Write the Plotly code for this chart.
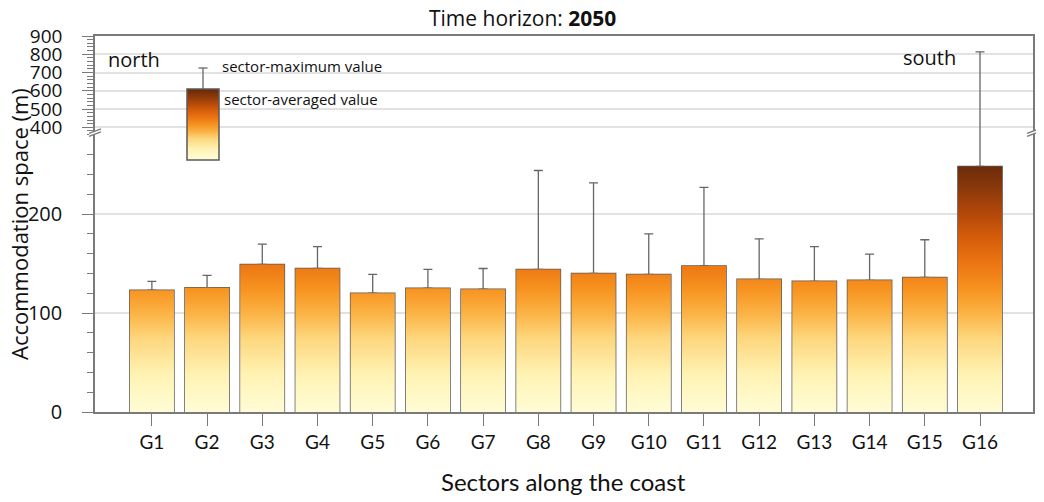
import plotly.graph_objects as go
from plotly.colors import sample_colorscale

# ---------------- data ----------------
sectors = ["G1", "G2", "G3", "G4", "G5", "G6", "G7", "G8",
           "G9", "G10", "G11", "G12", "G13", "G14", "G15", "G16"]
avg_values = [123, 125.5, 149, 145, 120, 125, 124, 144,
              140, 139, 147.5, 134, 132, 133, 136, 248]
max_values = [132, 138, 169.5, 167, 139, 144, 145, 244,
              231.5, 180, 227, 175, 167, 159.5, 174, 813]

title_main = "Time horizon: "
title_year = "2050"
y_title = "Accommodation space (m)"
x_title = "Sectors along the coast"

# ---------------- style ----------------
OFF = 8                      # browser default body margin
PAGE_W, PAGE_H = 1044, 502
W, H = PAGE_W - OFF, PAGE_H - OFF
P_LEFT, P_RIGHT, P_TOP, P_BOTTOM = 95, 1033, 36, 412   # plot area in page pixels
ML, MT = P_LEFT - OFF, P_TOP - OFF
MR, MB = W - (P_RIGHT - OFF), H - (P_BOTTOM - OFF)
PW, PH = P_RIGHT - P_LEFT, P_BOTTOM - P_TOP
BAR_W = 0.8
FONT = "'Open Sans', Lato, sans-serif"
NARROW = "Lato, 'Open Sans', sans-serif"
AXC = "#7a7a7a"
GRID = "#e2e2e2"
EDGE = "#5a5a5a"
cscale = [
    [0.00, "#FFFCD6"],
    [0.15, "#FFF3B4"],
    [0.30, "#FDD67C"],
    [0.40, "#FBB244"],
    [0.50, "#F7921F"],
    [0.60, "#EC7513"],
    [0.70, "#D65E0B"],
    [0.80, "#B4480A"],
    [0.90, "#8C390A"],
    [1.00, "#6A2A0A"],
]
GRAD_TOP = 250

LOW_RANGE = [0, 283]
UP_RANGE = [375, 900]
SPLIT = 0.745
LOW_DOM = [0, SPLIT]
UP_DOM = [SPLIT, 1]


def px2paper(px, py):
    """page pixel -> paper coords"""
    return (px - P_LEFT) / PW, (P_BOTTOM - py) / PH


x_idx = list(range(len(sectors)))

fig = go.Figure()

# gradient fill of the bars (polygons derived from data)
xs, ys = [], []
for i, v in zip(x_idx, avg_values):
    xs += [i - BAR_W / 2, i - BAR_W / 2, i + BAR_W / 2, i + BAR_W / 2, i - BAR_W / 2, None]
    ys += [0, v, v, 0, 0, None]
fig.add_trace(go.Scatter(
    x=xs, y=ys, mode="lines", line=dict(width=0), fill="toself",
    fillgradient=dict(type="vertical", colorscale=cscale, start=0, stop=GRAD_TOP),
    hoverinfo="skip", showlegend=False, xaxis="x", yaxis="y"))

# bar outlines + error bars (lower panel)
fig.add_trace(go.Bar(
    x=x_idx, y=avg_values, width=BAR_W,
    marker=dict(color="rgba(0,0,0,0)", line=dict(color=EDGE, width=1.5)),
    error_y=dict(type="data", symmetric=False,
                 array=[m - a for m, a in zip(max_values, avg_values)],
                 arrayminus=[0] * len(avg_values),
                 color="#666666", thickness=1.3, width=4.5),
    showlegend=False, xaxis="x", yaxis="y"))

# upper panel: continuation of error bars exceeding lower range
up_x = [i for i, m in zip(x_idx, max_values) if m > LOW_RANGE[1]]
up_y = [m for m in max_values if m > LOW_RANGE[1]]
fig.add_trace(go.Scatter(
    x=up_x, y=up_y, mode="markers", marker=dict(size=0.1, color="rgba(0,0,0,0)"),
    error_y=dict(type="data", symmetric=False, array=[0] * len(up_y),
                 arrayminus=[v - (UP_RANGE[0] - 20) for v in up_y],
                 color="#666666", thickness=1.3, width=4.5),
    showlegend=False, xaxis="x2", yaxis="y2"))

shapes = []
annotations = []

# break marks on left and right axes
BRK = P_BOTTOM - SPLIT * PH
for ax_px in (P_LEFT, P_RIGHT):
    x0, y0 = px2paper(ax_px - 6, BRK + 1.5)
    x1, y1 = px2paper(ax_px + 6, BRK - 3)
    x2, y2 = px2paper(ax_px - 6, BRK + 4.5)
    x3, y3 = px2paper(ax_px + 6, BRK)
    shapes.append(dict(type="path", xref="paper", yref="paper",
                       path=f"M{x0},{y0} L{x1},{y1} L{x3},{y3} L{x2},{y2} Z",
                       fillcolor="white", line=dict(width=0), layer="above"))
    for (a, b, c, d) in ((x0, y0, x1, y1), (x2, y2, x3, y3)):
        shapes.append(dict(type="line", xref="paper", yref="paper",
                           x0=a, y0=b, x1=c, y1=d,
                           line=dict(color=AXC, width=1.3), layer="above"))

# legend inset: gradient box
LB_L, LB_R, LB_T, LB_B = 187, 219, 89, 160
n = LB_B - LB_T
cols = sample_colorscale(cscale, [1 - k / (n - 1) for k in range(n)])
for k in range(n):
    xa, ya = px2paper(LB_L, LB_T + k)
    xb, yb = px2paper(LB_R, LB_T + k + 1.2)
    shapes.append(dict(type="rect", xref="paper", yref="paper",
                       x0=xa, y0=ya, x1=xb, y1=yb,
                       fillcolor=cols[k], line=dict(width=0), layer="above"))
xa, ya = px2paper(LB_L, LB_T)
xb, yb = px2paper(LB_R, LB_B)
shapes.append(dict(type="rect", xref="paper", yref="paper", x0=xa, y0=yb, x1=xb, y1=ya,
                   line=dict(color=EDGE, width=1.5), fillcolor="rgba(0,0,0,0)", layer="above"))
cx = (LB_L + LB_R) / 2
p0 = px2paper(cx, LB_T)
p1 = px2paper(cx, 68)
shapes.append(dict(type="line", xref="paper", yref="paper", x0=p0[0], y0=p0[1],
                   x1=p1[0], y1=p1[1], line=dict(color="#666666", width=1.3), layer="above"))
c0 = px2paper(cx - 4.5, 68)
c1 = px2paper(cx + 4.5, 68)
shapes.append(dict(type="line", xref="paper", yref="paper", x0=c0[0], y0=c0[1],
                   x1=c1[0], y1=c1[1], line=dict(color="#666666", width=1.3), layer="above"))


def add_text(text, px, py, size, xanchor="left", family=FONT, angle=0):
    x, y = px2paper(px, py)
    annotations.append(dict(text=text, x=x, y=y, xref="paper", yref="paper",
                            xanchor=xanchor, yanchor="middle", showarrow=False,
                            textangle=angle, font=dict(family=family, size=size, color="#111111")))


add_text("sector-maximum value", 220, 66, 15)
add_text("sector-averaged value", 222, 99, 15)
add_text("north", 106, 60, 20)
add_text("south", 958, 58, 20, xanchor="right")
add_text(y_title, 19, 224, 22, xanchor="center", angle=-90)
add_text(x_title, 563, 481, 24, xanchor="center", family=NARROW)
add_text(f"{title_main}<b>{title_year}</b>", 522, 18, 21, xanchor="center")

fig.update_layout(
    width=W, height=H,
    margin=dict(l=ML, r=MR, t=MT, b=MB, autoexpand=False),
    paper_bgcolor="white", plot_bgcolor="white",
    barmode="overlay",
    xaxis=dict(domain=[0, 1], range=[-1.03, 15.96], tickvals=x_idx, ticktext=sectors,
               showline=True, linecolor=AXC, linewidth=1.5, ticks="outside", ticklen=12,
               tickcolor=AXC, tickwidth=1.2, showgrid=False, zeroline=False,
               automargin=False,
               tickfont=dict(family=NARROW, size=19, color="#111111"), anchor="y"),
    xaxis2=dict(domain=[0, 1], matches="x", anchor="y2", side="top", showline=True,
                linecolor=AXC, linewidth=1.5, showticklabels=False, ticks="",
                showgrid=False, zeroline=False, automargin=False),
    yaxis=dict(domain=LOW_DOM, range=LOW_RANGE, tickvals=[0, 100, 200],
               showline=True, mirror=True, linecolor=AXC, linewidth=1.5,
               ticks="outside", ticklen=11, tickcolor=AXC, tickwidth=1.2,
               minor=dict(dtick=20, tick0=0, ticks="outside", ticklen=6, tickcolor=AXC,
                          showgrid=False),
               showgrid=True, gridcolor=GRID, gridwidth=1.5, zeroline=False,
               ticklabelstandoff=16, automargin=False,
               tickfont=dict(family=FONT, size=20, color="#111111"), anchor="x"),
    yaxis2=dict(domain=UP_DOM, range=UP_RANGE, tickvals=[400, 500, 600, 700, 800, 900],
                showline=True, mirror=True, linecolor=AXC, linewidth=1.5,
                ticks="outside", ticklen=11, tickcolor=AXC, tickwidth=1.2,
                minor=dict(dtick=20, tick0=0, ticks="outside", ticklen=6, tickcolor=AXC,
                           showgrid=False),
                showgrid=True, gridcolor=GRID, gridwidth=1.5, zeroline=False,
                ticklabelstandoff=16, automargin=False,
                tickfont=dict(family=FONT, size=19, color="#111111"), anchor="x2"),
    shapes=shapes,
    annotations=annotations,
)

fig.write_html("out.html")
